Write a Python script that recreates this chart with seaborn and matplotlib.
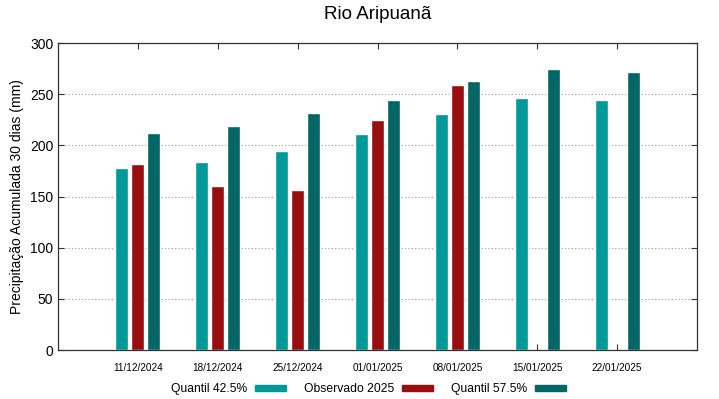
import matplotlib
matplotlib.use("Agg")
import matplotlib.pyplot as plt
import seaborn as sns
import numpy as np
import pandas as pd

datas = ['11/12/2024', '18/12/2024', '25/12/2024', '01/01/2025',
         '08/01/2025', '15/01/2025', '22/01/2025']
quantil_425 = [178, 184, 194, 211, 231, 246, 244]
observado = [182, 160, 156, 225, 259, np.nan, np.nan]
quantil_575 = [212, 219, 232, 244, 263, 275, 272]
series = ['Quantil 42.5%', 'Observado 2025', 'Quantil 57.5%']
cores = ['#009999', '#990f0f', '#006666']

df = pd.DataFrame({
    'data': datas * 3,
    'valor': quantil_425 + observado + quantil_575,
    'serie': [series[0]] * 7 + [series[1]] * 7 + [series[2]] * 7,
})

sns.set_style('white')
plt.rcParams['font.family'] = ['Liberation Sans', 'DejaVu Sans']
plt.rcParams['text.color'] = 'black'
plt.rcParams['axes.labelcolor'] = 'black'
plt.rcParams['xtick.color'] = 'black'
plt.rcParams['ytick.color'] = 'black'

fig = plt.figure(figsize=(7.19, 3.99), dpi=100)
ax = fig.add_axes([0.0807, 0.1228, 0.8887, 0.7694])

sns.barplot(data=df, x='data', y='valor', hue='serie', order=datas,
            hue_order=series, palette=cores, width=0.6, gap=0.19,
            saturation=1, ax=ax, legend=False)

ax.set_xlim(-1, 7)
ax.set_ylim(0, 300)
ax.set_yticks(range(0, 301, 50))
ax.yaxis.grid(True, linestyle=(0, (1, 2)), color='#999999', linewidth=0.8)
ax.set_axisbelow(True)
for s in ax.spines.values():
    s.set_color('#333333')
    s.set_linewidth(0.9)
ax.tick_params(axis='x', direction='in', top=True, bottom=True, length=4,
               labelsize=7.2, pad=9, color='#333333')
ax.tick_params(axis='y', direction='in', left=True, right=True, length=4,
               labelsize=10, color='#333333')
ax.set_xlabel('')
ax.set_ylabel('Precipitação Acumulada 30 dias (mm)', fontsize=10)
ax.set_title('Rio Aripuanã', fontsize=13.5, pad=17)

handles = [plt.Rectangle((0, 0), 1, 1, color=c) for c in cores]
fig.legend(handles, series, loc='lower center', bbox_to_anchor=(0.513, -0.018),
           ncol=3, frameon=False, markerfirst=False, handlelength=2.6,
           handleheight=0.45, handletextpad=0.6, columnspacing=1.5,
           fontsize=8.7)

fig.savefig('out.png', dpi=100)
